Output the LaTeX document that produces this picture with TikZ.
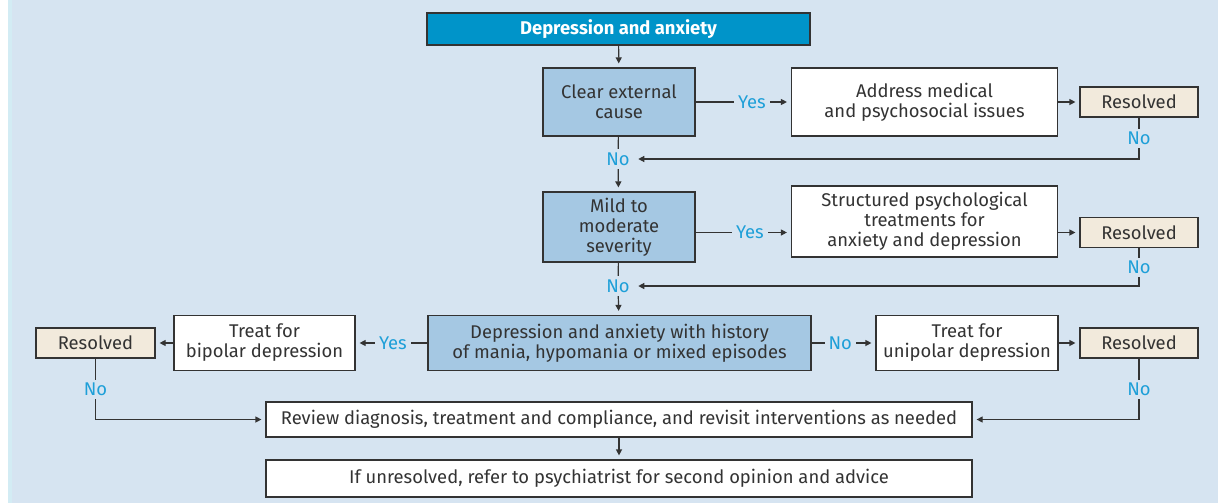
\documentclass[tikz,border=0pt]{standalone}
\usepackage{fontspec}
\setmainfont{Fira Sans}
\usetikzlibrary{arrows.meta}
\definecolor{bgblue}{HTML}{D6E4F1}
\definecolor{stripcyan}{HTML}{D3ECF4}
\definecolor{titleblue}{HTML}{0094C9}
\definecolor{boxblue}{HTML}{A5C8E3}
\definecolor{resbeige}{HTML}{F2EADC}
\definecolor{linegray}{HTML}{333333}
\definecolor{labblue}{HTML}{1E9FD8}
\begin{document}
\begin{tikzpicture}[x=0.5pt, y=-0.5pt, color=linegray, line width=0.6pt,
    font=\fontsize{9.2}{10}\selectfont,
    box/.style={draw=linegray, fill=white, align=center, inner sep=0pt},
    decision/.style={box, fill=boxblue},
    resolved/.style={box, fill=resbeige, minimum width=59pt, minimum height=15pt},
    lab/.style={fill=bgblue, text=labblue, inner xsep=2pt, inner ysep=1.5pt},
    ->/.style={-{Triangle[length=3pt, width=3pt]}, shorten >=2pt}]
    \fill[white] (0,0) rectangle (8,503);
    \fill[stripcyan] (8,0) rectangle (12,503);
    \fill[bgblue] (12,0) rectangle (1218,503);
    \useasboundingbox (0,0) rectangle (1218,503);

    \node[box, fill=titleblue, text=white, font=\fontsize{9.2}{10}\selectfont\bfseries,
        minimum width=191.5pt, minimum height=16pt] (DA) at (618.5, 29) {Depression and anxiety};
    \node[decision, minimum width=76pt, minimum height=34pt] (CE) at (619, 102) {Clear external\\cause};
    \node[box, minimum width=133pt, minimum height=34pt] (AM) at (924.5, 102) {Address medical\\and psychosocial issues};
    \node[resolved] (R1) at (1139, 102) {Resolved};
    \node[lab] (N1) at (618, 159) {No};

    \node[decision, minimum width=76pt, minimum height=35pt] (MS) at (619, 227) {Mild to\\moderate\\severity};
    \node[box, minimum width=133pt, minimum height=35.5pt] (SP) at (924.5, 221.5) {Structured psychological\\treatments for\\anxiety and depression};
    \node[resolved] (R2) at (1139, 232.5) {Resolved};
    \node[lab] (N2) at (618, 286) {No};

    \node[decision, minimum width=191.5pt, minimum height=27.5pt] (HM) at (619.5, 343) {Depression and anxiety with history\\of mania, hypomania or mixed episodes};
    \node[box, minimum width=90.5pt, minimum height=27.5pt] (BD) at (264.5, 343) {Treat for\\bipolar depression};
    \node[resolved, minimum width=59.5pt] (R3) at (95.5, 343) {Resolved};
    \node[box, minimum width=91pt, minimum height=27.5pt] (UD) at (967, 343) {Treat for\\unipolar depression};
    \node[resolved] (R4) at (1139, 343) {Resolved};

    \node[box, minimum width=353pt, minimum height=17.5pt] (RV) at (619, 419.5) {Review diagnosis, treatment and compliance, and revisit interventions as needed};
    \node[box, minimum width=353pt, minimum height=18.5pt] (RP) at (619, 478.5) {If unresolved, refer to psychiatrist for second opinion and advice};

    \draw[->] (DA) -- (CE);
    \draw[->] (CE) -- node[lab, pos=0.59] {Yes} (AM);
    \draw[->] (AM) -- (R1);
    \draw[->] (R1) -- node[lab] {No} (R1 |- N1) -- (N1);
    \draw (CE) -- (N1);
    \draw[->] (N1) -- (MS);

    \draw[->] (MS.east |- R2) -- node[lab, pos=0.57] {Yes} (SP.west |- R2);
    \draw[->] (SP.east |- R2) -- (R2);
    \draw[->] (R2) -- node[lab] {No} (R2 |- N2) -- (N2);
    \draw (MS) -- (N2);
    \draw[->] (N2) -- (HM);

    \draw[->] (HM) -- node[lab, pos=0.48] {Yes} (BD);
    \draw[->] (BD) -- (R3);
    \draw[->] (HM) -- node[lab, pos=0.45] {No} (UD);
    \draw[->] (UD) -- (R4);
    \draw[->] (R3) -- node[lab] {No} (R3 |- RV) -- (RV);
    \draw[->] (R4) -- node[lab] {No} (R4 |- RV) -- (RV);
    \draw[->] (RV) -- (RP);
\end{tikzpicture}
\end{document}
